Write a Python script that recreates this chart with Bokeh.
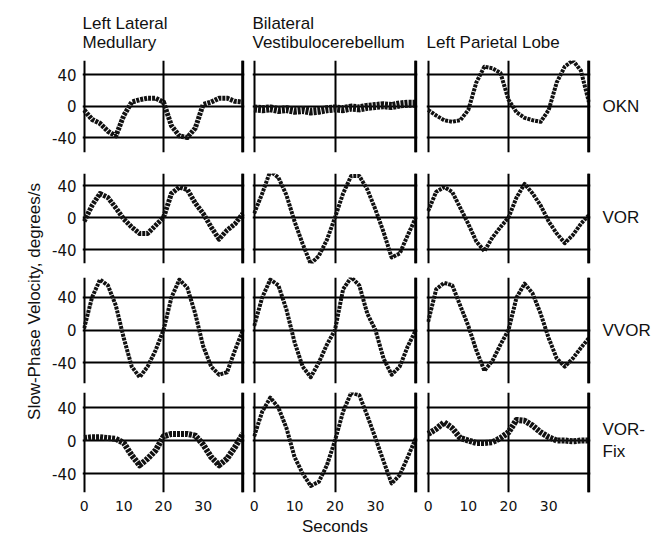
from bokeh.plotting import figure
from bokeh.layouts import row, column
from bokeh.models import FixedTicker, LinearAxis, Range1d, Span
from bokeh.embed import file_html
from bokeh.resources import INLINE

# ---------------- data ----------------
seconds = [0, 2, 4, 6, 8, 10, 12, 14, 16, 18, 20, 22, 24, 26, 28, 30, 32, 34, 36, 38, 40]
column_titles = ["Left Lateral\nMedullary", "Bilateral\nVestibulocerebellum", "Left Parietal Lobe"]
row_labels = ["OKN", "VOR", "VVOR", "VOR-\nFix"]
y_ticks = [-40, 0, 40]
x_ticks = [0, 10, 20, 30]
x_axis_title = "Seconds"
y_axis_title = "Slow-Phase Velocity, degrees/s"

okn_medullary = [-5, -17, -22, -32, -38, -12, 5, 8, 10, 10, 5, -25, -38, -40, -28, 2, 5, 10, 10, 6, 5]
okn_vestibulocerebellum = [-3, -4, -3, -5, -4, -6, -5, -7, -6, -4, -3, -4, -2, -3, -1, 0, 1, 0, 2, 3, 3]
okn_parietal = [-5, -12, -18, -20, -18, -5, 30, 50, 48, 42, 8, -8, -15, -18, -20, -5, 30, 50, 58, 45, 5]

vor_medullary = [-5, 15, 30, 25, 12, -2, -12, -20, -20, -10, 0, 30, 38, 35, 18, 5, -12, -27, -16, -8, 5]
vor_vestibulocerebellum = [5, 30, 58, 50, 28, -5, -33, -58, -48, -28, 0, 30, 52, 52, 35, 10, -18, -50, -45, -22, 0]
vor_parietal = [8, 32, 38, 32, 12, -8, -30, -42, -25, -12, 0, 25, 42, 30, 15, -5, -20, -32, -22, -8, 3]

vvor_medullary = [2, 40, 62, 55, 30, -10, -45, -58, -45, -25, 0, 40, 62, 52, 20, -20, -45, -55, -52, -25, 0]
vvor_vestibulocerebellum = [5, 40, 62, 55, 25, -15, -45, -58, -40, -18, 0, 50, 65, 55, 20, 0, -35, -55, -45, -20, 0]
vvor_parietal = [10, 50, 58, 55, 30, 5, -25, -50, -38, -18, 0, 40, 57, 45, 20, -10, -35, -45, -35, -22, -10]

vorfix_medullary = [3, 4, 4, 3, 2, -3, -18, -30, -22, -12, 5, 8, 8, 8, 6, -5, -20, -30, -22, -8, 8]
vorfix_vestibulocerebellum = [5, 35, 52, 40, 15, -20, -40, -55, -50, -30, 0, 35, 58, 55, 30, 3, -25, -52, -42, -20, 3]
vorfix_parietal = [8, 14, 22, 15, 3, 0, -3, -3, -2, 3, 10, 25, 24, 18, 10, 4, 0, 0, -1, 0, 0]

series = [
    [okn_medullary, okn_vestibulocerebellum, okn_parietal],
    [vor_medullary, vor_vestibulocerebellum, vor_parietal],
    [vvor_medullary, vvor_vestibulocerebellum, vvor_parietal],
    [vorfix_medullary, vorfix_vestibulocerebellum, vorfix_parietal],
]

# ---------------- layout geometry ----------------
# (border_top, frame_height, border_bottom, y_min, y_max)
ROW_GEOM = [
    (60, 92, 10, -59.0, 57.8),
    (11, 90, 7, -57.5, 55.0),
    (7, 106, 4, -65.8, 64.6),
    (5, 100, 44, -63.0, 58.2),
]
# (border_left, frame_width, border_right)
COL_GEOM = [(36, 162, 4), (4, 165, 4), (5, 164, 58)]
TRACE_WIDTH = [
    [5, 8, 4],
    [5, 4, 4],
    [4, 4, 4],
    [6, 4, 6],
]

FONT = "Liberation Sans"
NUM_FONT = "DejaVu Sans"
INK = "#111111"

rows = []
for r, (bt, fh, bb, ymin, ymax) in enumerate(ROW_GEOM):
    figs = []
    for c, (bl, fw, br) in enumerate(COL_GEOM):
        kw = dict(
            frame_width=fw, frame_height=fh,
            min_border_left=bl, min_border_right=br,
            min_border_top=bt, min_border_bottom=bb,
            x_range=Range1d(-0.4, 40.4), y_range=Range1d(ymin, ymax),
            x_axis_location=None, y_axis_location=None,
            toolbar_location=None, output_backend="svg",
            outline_line_color=None,
            background_fill_color="white", border_fill_color="white",
        )
        kw["title"] = column_titles[c] if r == 0 else None
        p = figure(**kw)
        if r == 0:
            p.title.align = "left"
            p.title.text_font = FONT
            p.title.text_font_size = "17px"
            p.title.text_font_style = "normal"
            p.title.text_color = INK
            p.title.standoff = 18

        p.xgrid.ticker = FixedTicker(ticks=[0, 20, 40])
        p.ygrid.ticker = FixedTicker(ticks=y_ticks)
        p.grid.grid_line_color = "black"
        p.grid.grid_line_width = 2
        p.add_layout(Span(location=40, dimension="height", line_color="black", line_width=3))

        p.line(seconds, series[r][c], line_color=INK, line_width=TRACE_WIDTH[r][c],
               line_dash="3 1", line_join="round")

        if c == 0:
            ax = LinearAxis(ticker=FixedTicker(ticks=y_ticks),
                            major_label_overrides={t: str(t) for t in y_ticks})
            ax.axis_line_color = None
            ax.major_tick_line_color = None
            ax.minor_tick_line_color = None
            ax.major_tick_in = 0
            ax.major_tick_out = 0
            ax.major_label_text_font = NUM_FONT
            ax.major_label_text_font_size = "15px"
            ax.major_label_text_color = INK
            ax.major_label_standoff = 6
            p.add_layout(ax, "left")
        if c == 2:
            ax = LinearAxis(ticker=FixedTicker(ticks=[0]),
                            major_label_overrides={0: row_labels[r]})
            ax.axis_line_color = None
            ax.major_tick_line_color = None
            ax.minor_tick_line_color = None
            ax.major_tick_in = 0
            ax.major_tick_out = 0
            ax.major_label_text_font = FONT
            ax.major_label_text_font_size = "17px"
            ax.major_label_text_color = INK
            ax.major_label_standoff = 12
            p.add_layout(ax, "right")
        if r == len(ROW_GEOM) - 1:
            ax = LinearAxis(ticker=FixedTicker(ticks=x_ticks),
                            major_label_overrides={t: str(t) for t in x_ticks})
            ax.axis_line_color = None
            ax.major_tick_line_color = None
            ax.minor_tick_line_color = None
            ax.major_tick_in = 0
            ax.major_tick_out = 0
            ax.major_label_text_font = NUM_FONT
            ax.major_label_text_font_size = "14px"
            ax.major_label_text_color = INK
            ax.major_label_standoff = 8
            if c == 1:
                ax.axis_label = x_axis_title
                ax.axis_label_text_font = FONT
                ax.axis_label_text_font_size = "17px"
                ax.axis_label_text_font_style = "normal"
                ax.axis_label_text_color = INK
                ax.axis_label_standoff = 3
            p.add_layout(ax, "below")
        figs.append(p)
    rows.append(row(*figs, spacing=0))

grid = column(*rows, spacing=0)

# y-axis title panel
yt = figure(frame_width=1, frame_height=398, min_border_left=45, min_border_right=0,
            min_border_top=102, min_border_bottom=36,
            x_range=Range1d(0, 1), y_range=Range1d(0, 1),
            x_axis_location=None, y_axis_location=None, title=None,
            toolbar_location=None, output_backend="svg", outline_line_color=None,
            background_fill_color="white", border_fill_color="white")
yt.grid.visible = False
yax = LinearAxis(ticker=FixedTicker(ticks=[]), axis_label=y_axis_title)
yax.axis_line_color = None
yax.major_tick_line_color = None
yax.minor_tick_line_color = None
yax.major_tick_in = 0
yax.major_tick_out = 0
yax.axis_label_text_font = FONT
yax.axis_label_text_font_size = "17px"
yax.axis_label_text_font_style = "normal"
yax.axis_label_text_color = INK
yax.axis_label_standoff = 2
yt.add_layout(yax, "left")

layout = row(yt, grid, spacing=0)

open("out.html", "w").write(file_html(layout, INLINE))
